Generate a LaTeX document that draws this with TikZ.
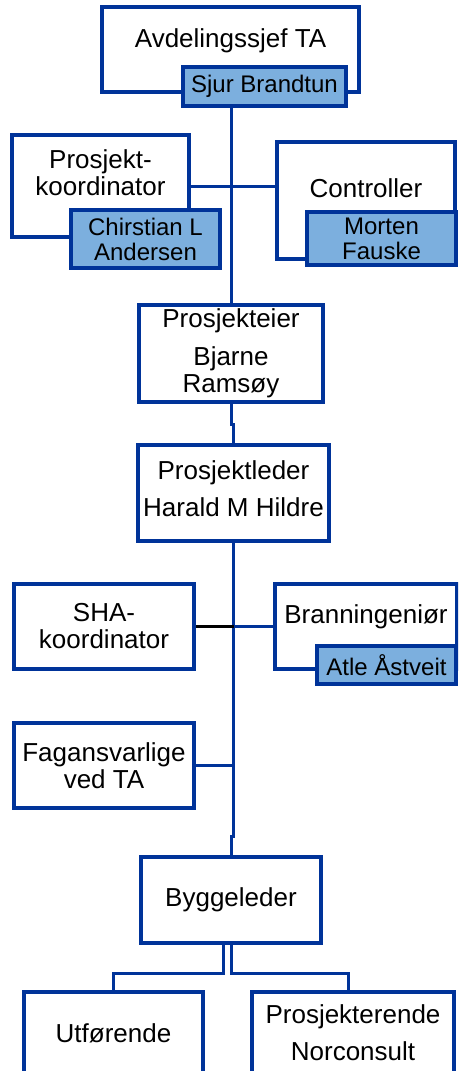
\documentclass[tikz,border=0pt]{standalone}
\usepackage{fontspec}
\setmainfont{Liberation Sans}
\usetikzlibrary{backgrounds}
\definecolor{orgblue}{RGB}{0,51,153}
\definecolor{namefill}{RGB}{124,175,222}

\begin{document}
\begin{tikzpicture}[
    x=1pt, y=-1pt,
    unit/.style={draw=orgblue, line width=3.8pt, fill=white, inner sep=1pt, align=center,
                 font=\fontsize{26}{27}\selectfont},
    person/.style={unit, fill=namefill, font=\fontsize{24}{25}\selectfont},
    link/.style={draw=orgblue, line width=3pt},
    dims/.style 2 args={minimum width=#1pt, minimum height=#2pt},
]
    \useasboundingbox (0,0) rectangle (458,1071);
    \clip (0,0) rectangle (458,1071);

    % Department head
    \node[unit, dims={257}{85}, text depth=22pt] (avd) at (230.5,49.5) {Avdelingssjef TA};
    \node[person, dims={163}{39}] (sjur) at (264.5,86.5) {Sjur Brandtun};

    % Staff functions
    \node[unit, dims={177}{102}, text depth=26pt] (pk) at (100.5,186) {Prosjekt-\\koordinator};
    \node[person, dims={149}{58}] (chr) at (145.5,239) {Chirstian L\\Andersen};
    \node[unit, dims={178}{117}, text depth=24pt] (ctrl) at (366,200.5) {Controller};
    \node[person, dims={149}{53}] (mor) at (381.5,238.5) {Morten\\Fauske};

    % Owner and project manager
    \node[unit, dims={184}{97}] (pe) at (231,353.5) {Prosjekteier\\[11pt]Bjarne\\Ramsøy};
    \node[unit, dims={191}{96}, text depth=8pt] (pl) at (233.5,493) {Prosjektleder\\[10pt]Harald M Hildre};

    % Advisers
    \node[unit, dims={180}{85}] (sha) at (104,626.5) {SHA-\\koordinator};
    \node[unit, dims={182}{85}, text depth=24pt] (bra) at (366,626.5) {Branningeniør};
    \node[person, dims={139}{38}] (atle) at (386.5,665) {Atle Åstveit};
    \node[unit, dims={180}{85}] (fag) at (104,765.5) {Fagansvarlige\\ved TA};

    % Construction
    \node[unit, dims={180}{86}] (bg) at (231,900) {Byggeleder};
    \node[unit, dims={179}{82}] (ut) at (113.5,1033) {Utførende};
    \node[unit, dims={202}{82}] (pn) at (353,1033) {Prosjekterende\\[10pt]Norconsult};

    % Connectors
    \begin{scope}[on background layer]
        \draw[link] (sjur.south -| pe.north) -- (pe.north);
        \draw[link] (pk.east) -- (pk.east -| ctrl.west);
        \draw[link] (pe.south) -- ++(0,21) -| (pl.north);
        \draw[link] (pl.south) -- ++(0,294) -| (bg.north);
        \draw[link, draw=black] (sha.east) -- (sha.east -| pl.south);
        \draw[link] (bra.west -| pl.south) -- (bra.west);
        \draw[link] (fag.east) -- (fag.east -| pl.south);
        \draw[link] ([xshift=-8pt]bg.south) -- ++(0,29) -| (ut.north);
        \draw[link] (bg.south) -- ++(0,29) -| ([xshift=-5pt]pn.north);
    \end{scope}
\end{tikzpicture}
\end{document}
